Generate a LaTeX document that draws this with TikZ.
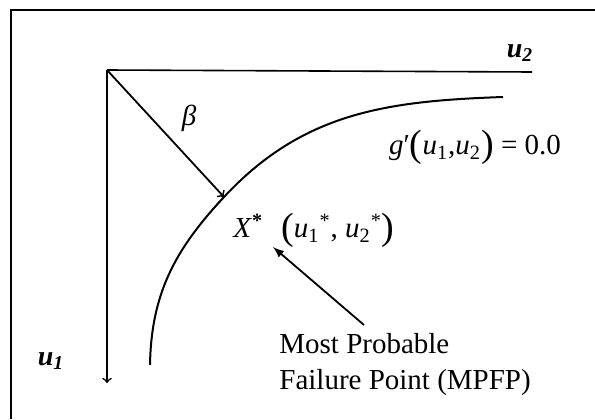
\documentclass[tikz,border=0pt]{standalone}
\usepackage{fontspec}
\setmainfont{Liberation Serif}
\usetikzlibrary{arrows,positioning,calc}
\newcommand{\bigparen}[1]{{\fontsize{19}{19}\selectfont\raisebox{-0.6pt}{#1}}}
\newcommand{\ustar}[1]{\textit{u}\textsubscript{#1}\textsuperscript{*}}

\begin{document}
\begin{tikzpicture}[
            x=0.5pt, y=0.5pt,
            font=\fontsize{14.5}{18}\selectfont,
            axis/.style={line width=0.8pt},
            arrow/.style={->, line width=0.9pt},
            pointer/.style={-latex, line width=0.9pt},
            surface/.style={line width=1pt},
            axislabel/.style={font=\fontsize{14}{16}\bfseries\itshape}
        ]
            \useasboundingbox (0,0) rectangle (595,419);
            % frame
            \draw[line width=0.6pt] (11,0) -- (11,409) -- (595,409);
            
            \coordinate (origin) at (107,349);
            \coordinate (u2end) at (532,347);
            \coordinate (u1end) at (107,36);
            \coordinate (mpfp) at (224,222);
            \coordinate (curvestart) at (150,54);
            \coordinate (curveend) at (503,322);
            
            \node[axislabel] (u2) at (520,366) {u\textsubscript{2}};
            \node[axislabel] (u1) at (51,58) {u\textsubscript{1}};
            \node (beta) at (189,301) {\textit{β}};
            \node (limit) at (475,272) {\textit{g}′\bigparen{(}\textit{u}\textsubscript{1},\textit{u}\textsubscript{2}\bigparen{)} = 0.0};
            \node[anchor=west, inner sep=0pt] (xstar) at (233,189) {\textit{X}\textsuperscript{\textbf{*}}\hspace{9pt}\bigparen{(}\ustar{1}, \ustar{2}\bigparen{)}};
            \node[align=left, anchor=west, inner sep=0pt] (mpfptext) at (279,54) {Most Probable\\Failure Point (MPFP)};
            \coordinate (tail) at (364,94);
            \coordinate (head) at (273,172);
            
            \draw[axis] (origin) -- (u2end);
            \draw[axis, ->] (origin) -- (u1end);
            \draw[arrow] (origin) -- (mpfp);
            \draw[surface] (curvestart) to[out=89, in=227] (mpfp) to[out=47, in=182] (curveend);
            \draw[pointer] (tail) -- (head);
        \end{tikzpicture}
\end{document}
